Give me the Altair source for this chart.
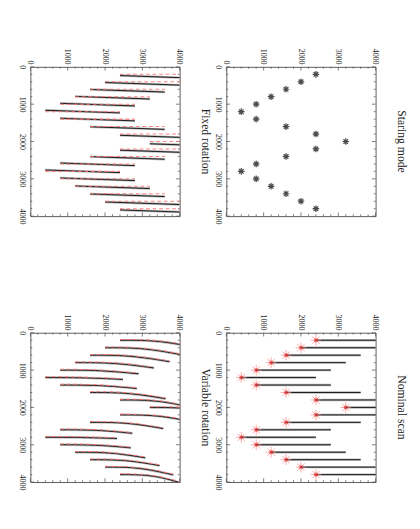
import altair as alt
import pandas as pd

FONT = "Liberation Serif"

# ---- data (vertical = scan position, horizontal = offset) ----
scan_x = [200, 400, 600, 800, 1000, 1200, 1400, 1600, 1800, 2000,
          2200, 2400, 2600, 2800, 3000, 3200, 3400, 3600, 3800]
star_y = [2400, 2000, 1600, 1200, 800, 400, 800, 1600, 2400, 3200,
          2400, 1600, 800, 400, 800, 1200, 1600, 2000, 2400]
scan_end_y = [4400, 4000, 3600, 3200, 2800, 2400, 2800, 3600, 4400, 5200,
              4400, 3600, 2800, 2400, 2800, 3200, 3600, 4000, 4400]
fixed_x_start = [233, 419, 605, 791, 977, 1163, 1377, 1605, 1833, 2061,
                 2233, 2405, 2577, 2763, 2977, 3191, 3405, 3619, 3833]
fixed_x_end = [303, 489, 675, 861, 1047, 1233, 1447, 1675, 1903, 2131,
               2303, 2475, 2647, 2833, 3047, 3261, 3475, 3689, 3903]
var_end_y = [4500, 4100, 3730, 3310, 2900, 2480, 2850, 3625, 4450, 5250,
             4400, 3560, 2730, 2320, 2690, 3080, 3460, 3830, 4230]
var_end_x = [410, 600, 775, 942, 1100, 1250, 1492, 1767, 2030, 2215,
             2395, 2567, 2692, 2833, 3083, 3350, 3558, 3808, 4085]

major_ticks = [0, 1000, 2000, 3000, 4000]
minor_ticks = [200, 400, 600, 800, 1200, 1400, 1600, 1800, 2200, 2400,
               2600, 2800, 3200, 3400, 3600, 3800]
titles = ["Fixed rotation", "Staring mode", "Variable rotation", "Nominal scan"]

MAJOR_LEN = 100
MINOR_LEN = 50
LO, HI = 0, 4000

# ---- tables ----
rows = pd.DataFrame({
    "row": list(range(len(scan_x))),
    "v": scan_x, "h": star_y, "h_end": scan_end_y,
    "fv1": fixed_x_start, "fv2": fixed_x_end,
})

curve = []
for i in range(len(scan_x)):
    h0, v0 = star_y[i], scan_x[i]
    h1, v1 = var_end_y[i], var_end_x[i]
    for hh, vv in [(h0, v0), ((h0 + h1) / 2, v0), (h1, v1)]:
        curve.append({"row": i, "h": hh, "v": vv, "vr": vv - 20})
curve = pd.DataFrame(curve)

tk = []
for t, ln in [(t, MAJOR_LEN) for t in major_ticks] + [(t, MINOR_LEN) for t in minor_ticks]:
    tk.append({"h1": t, "h2": t, "v1": LO, "v2": LO + ln})
    tk.append({"h1": t, "h2": t, "v1": HI, "v2": HI - ln})
    tk.append({"h1": LO, "h2": LO + ln, "v1": t, "v2": t})
    tk.append({"h1": HI, "h2": HI - ln, "v1": t, "v2": t})
ticks = pd.DataFrame(tk)

hscale = alt.Scale(domain=[LO, HI], nice=False, zero=False)
vscale = alt.Scale(domain=[LO, HI], nice=False, zero=False, reverse=True)

xaxis = alt.Axis(orient="top", values=major_ticks, format="d", labelAngle=90, labelAlign="right",
                 labelBaseline="middle", labelPadding=3, ticks=False, tickSize=0,
                 domain=False, grid=False, labelFont=FONT, labelFontSize=8.5,
                 labelColor="#222", title=None, labelFlush=False, labelOverlap=False)
yaxis = alt.Axis(orient="left", values=major_ticks, format="d", labelAngle=90, labelAlign="center",
                 labelBaseline="top", labelPadding=5, ticks=False, tickSize=0,
                 domain=False, grid=False, labelFont=FONT, labelFontSize=8.5,
                 labelColor="#222", title=None, labelFlush=False, labelOverlap=False)


def X(f):
    return alt.X(f, type="quantitative", scale=hscale, axis=xaxis)


def Y(f):
    return alt.Y(f, type="quantitative", scale=vscale, axis=yaxis)


AST = "M0,-1L0,1M-1,0L1,0M-0.7,-0.7L0.7,0.7M-0.7,0.7L0.7,-0.7"

tick_layer = alt.Chart(ticks).mark_rule(color="#555", strokeWidth=0.8).encode(
    x=X("h1"), x2="h2", y=Y("v1"), y2="v2")


def halo_rule(y1, y2=None):
    enc_h = dict(x=X("h"), x2="h_end", y=Y(y1))
    if y2:
        enc_h["y2"] = y2
    halo = alt.Chart(rows).mark_rule(color="#999", strokeWidth=2.6, opacity=0.7, clip=True).encode(**enc_h)
    core = alt.Chart(rows).mark_rule(color="#111", strokeWidth=1, clip=True).encode(**enc_h)
    return [halo, core]


def panel(layers, title):
    return alt.layer(tick_layer, *layers).properties(
        width=160, height=160,
        title=alt.TitleParams(text=title, orient="right", angle=90, anchor="middle",
                              font=FONT, fontSize=12.5, fontWeight="normal",
                              color="#222", offset=4, baseline="bottom"))


# Staring mode
staring = panel([
    alt.Chart(rows).mark_point(shape=AST, filled=False, color="black", size=50,
                               strokeWidth=1.3).encode(x=X("h"), y=Y("v"))
], titles[1])

# Nominal scan
nominal = panel(halo_rule("v") + [
    alt.Chart(rows).mark_point(shape=AST, filled=False, color="#ff8080", size=130,
                               strokeWidth=1).encode(x=X("h"), y=Y("v")),
    alt.Chart(rows).mark_point(shape=AST, filled=False, color="#d01010", size=20,
                               strokeWidth=1).encode(x=X("h"), y=Y("v")),
], titles[3])

# Fixed rotation
fixed = panel(halo_rule("fv1", "fv2") + [
    alt.Chart(rows).mark_rule(color="#ff7070", strokeWidth=1.1, strokeDash=[4, 3],
                              opacity=0.85, clip=True).encode(x=X("h"), x2="h_end", y=Y("v")),
], titles[0])

# Variable rotation
variable = panel([
    alt.Chart(curve).mark_line(color="#999", strokeWidth=2.6, opacity=0.7,
                               interpolate="basis", clip=True).encode(x=X("h"), y=Y("v"), detail="row:N"),
    alt.Chart(curve).mark_line(color="#111", strokeWidth=1,
                               interpolate="basis", clip=True).encode(x=X("h"), y=Y("v"), detail="row:N"),
    alt.Chart(curve).mark_line(color="#ff7070", strokeWidth=1.1, strokeDash=[4, 3], opacity=0.85,
                               interpolate="basis", clip=True).encode(x=X("h"), y=Y("vr"), detail="row:N"),
], titles[2])

chart = alt.concat(fixed, staring, variable, nominal, columns=2,
                   spacing={"row": 125, "column": 50}, bounds="flush").properties(
    padding={"left": 10, "top": 24, "right": 5, "bottom": 5},
    background="white",
).configure_view(stroke="#555", strokeWidth=1)

chart.save("out.html", embed_options={"renderer": "svg", "actions": False})
